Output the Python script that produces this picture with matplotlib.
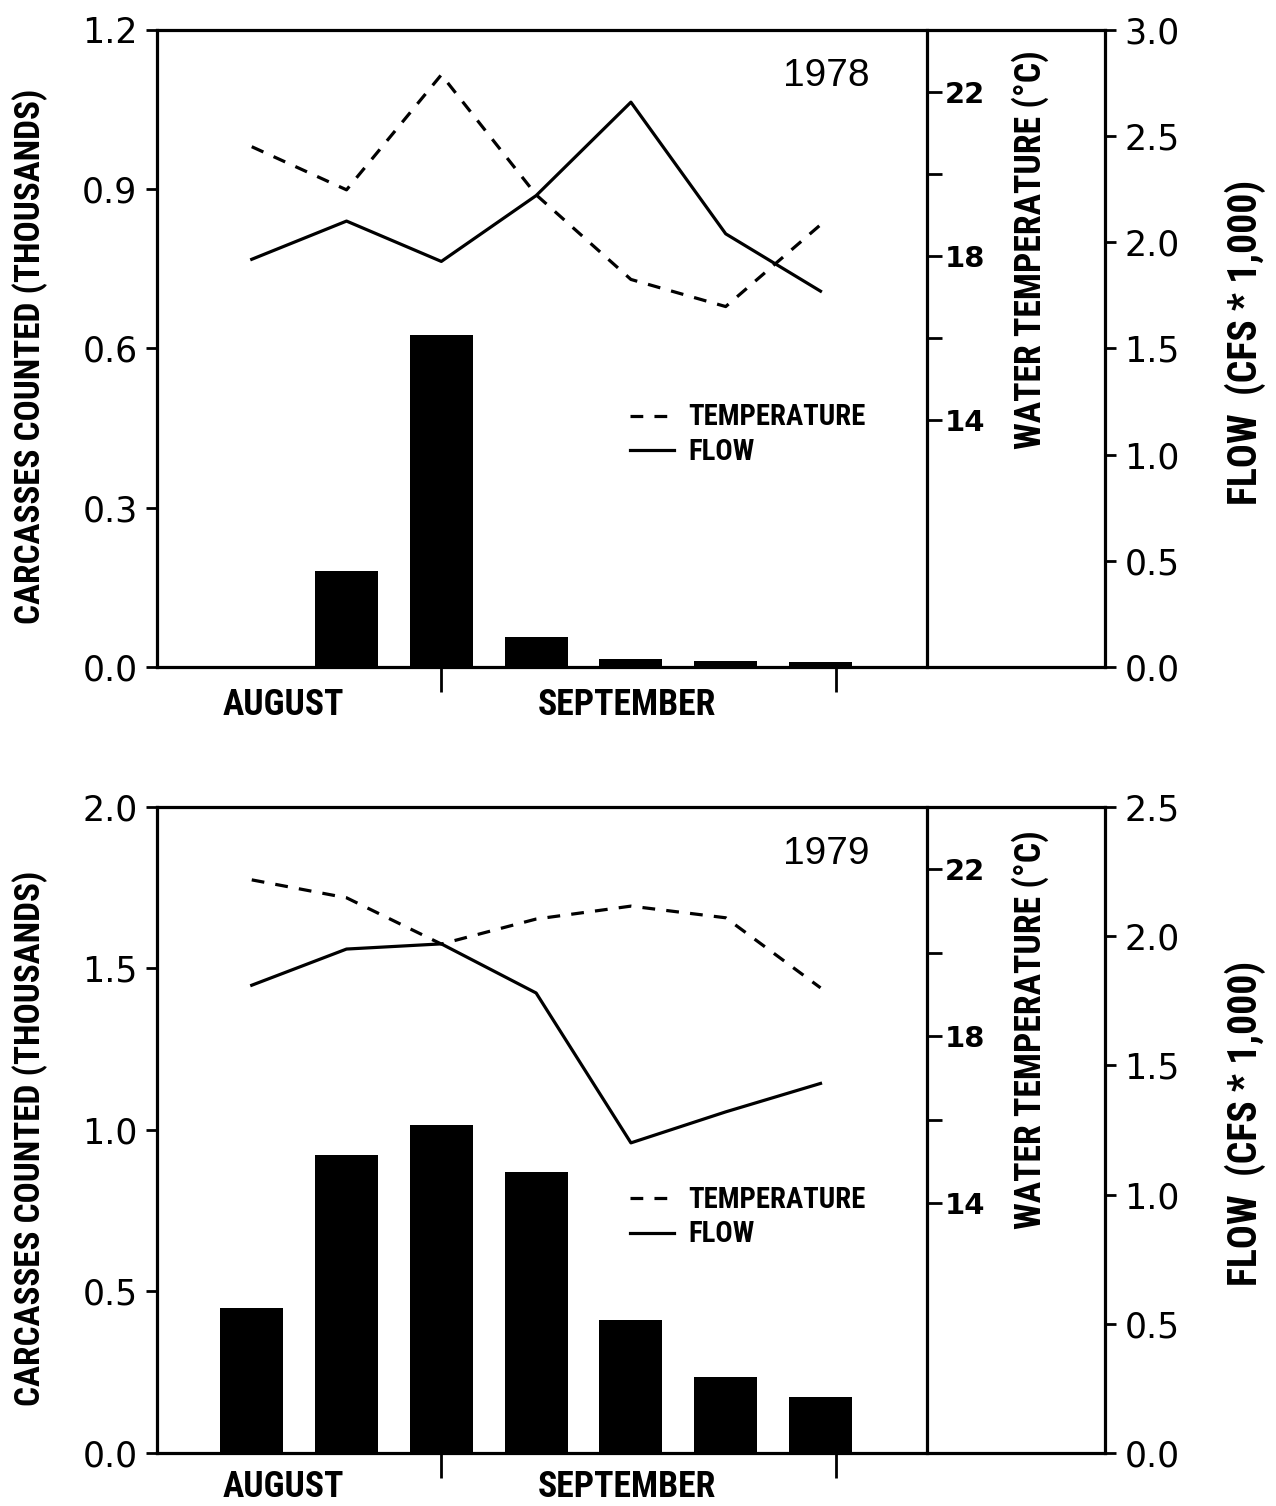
import matplotlib
matplotlib.use('Agg')
import matplotlib.pyplot as plt
from matplotlib.lines import Line2D
from matplotlib import font_manager

# weekly survey periods (bar positions)
weeks = [0, 1, 2, 3, 4, 5, 6]
month_ticks = [2.0, 6.16]
month_label_pos = [0.33, 3.96]
month_labels = ['AUGUST', 'SEPTEMBER']

carcasses_1978 = [0.0, 0.181, 0.626, 0.057, 0.015, 0.011, 0.009]
temp_1978 = [20.66, 19.61, 22.41, 19.49, 17.43, 16.77, 18.76]
flow_1978 = [1.92, 2.10, 1.91, 2.22, 2.66, 2.04, 1.77]

carcasses_1979 = [0.449, 0.923, 1.015, 0.870, 0.412, 0.235, 0.173]
temp_1979 = [21.75, 21.32, 20.21, 20.81, 21.12, 20.84, 19.16]
flow_1979 = [1.81, 1.95, 1.97, 1.78, 1.20, 1.32, 1.43]

names = {f.name for f in font_manager.fontManager.ttflist}
NARROW = 'DejaVu Sans'
for cand in ['Liberation Sans Narrow', 'Roboto Condensed', 'Open Sans Condensed', 'Roboto']:
    if cand in names:
        NARROW = cand
        break

LW = 2.3
fig = plt.figure(figsize=(12.76, 15.06), dpi=100)
to_fit = []  # (text, target length in px, vertical?)


def label(ax, x, y, s, length, vertical=True, **kw):
    t = ax.text(x, y, s, rotation=90 if vertical else 0, ha='center', va='center',
                fontfamily=NARROW, fontweight='bold', fontsize=20, **kw)
    to_fit.append((t, length, vertical))
    return t


def panel(rect, counts, temps, flows, cmax, cticks, fmax, fticks, year, month_dy):
    ax = fig.add_axes(rect)
    ax.bar(weeks, counts, width=0.665, color='black')
    ax.set_xlim(-1, 9)
    ax.set_ylim(0, cmax)
    ax.set_yticks(cticks)
    ax.set_yticklabels(['%.1f' % t for t in cticks])
    ax.spines['right'].set_visible(False)
    for s in ax.spines.values():
        s.set_linewidth(LW)
    ax.tick_params(axis='y', direction='out', length=8, width=2, pad=6, labelsize=25)
    ax.set_xticks(month_ticks)
    ax.set_xticklabels([])
    ax.tick_params(axis='x', which='major', direction='out', length=18, width=2)
    for xpos, name, w in zip(month_label_pos, month_labels, [121, 179]):
        label(ax, xpos, month_dy, name, w, vertical=False,
              transform=ax.get_xaxis_transform())
    label(ax, -0.134, 0.487, 'CARCASSES COUNTED (THOUSANDS)', 535,
          transform=ax.transAxes)
    ax.text(0.752, 0.927, year, transform=ax.transAxes, ha='right', va='center',
            fontfamily='Liberation Sans', fontsize=28)

    # water temperature axis (middle spine)
    axT = ax.twinx()
    axT.set_ylim(8, 23.5)
    for side in ['left', 'top', 'bottom']:
        axT.spines[side].set_visible(False)
    axT.spines['right'].set_position(('axes', 0.812))
    axT.spines['right'].set_linewidth(LW)
    axT.set_yticks([14, 18, 22])
    axT.set_yticks([16, 20], minor=True)
    axT.tick_params(which='both', direction='out', length=11, width=2, pad=2, labelsize=21)
    for lab in axT.get_yticklabels():
        lab.set_fontweight('bold')
    axT.plot(weeks, temps, color='black', lw=LW, ls=(0, (4, 3.5)))
    label(ax, 0.921, 0.655, 'WATER TEMPERATURE (°C)', 400, transform=ax.transAxes)

    # flow axis (right spine)
    axF = ax.twinx()
    axF.set_ylim(0, fmax)
    for side in ['left', 'top', 'bottom']:
        axF.spines[side].set_visible(False)
    axF.spines['right'].set_linewidth(LW)
    axF.set_yticks(fticks)
    axF.set_yticklabels(['%.1f' % t for t in fticks])
    axF.tick_params(direction='out', length=8, width=2, pad=6, labelsize=25)
    axF.plot(weeks, flows, color='black', lw=LW)
    label(ax, 1.148, 0.51, 'FLOW  (CFS * 1,000)', 325, transform=ax.transAxes)

    handles = [Line2D([], [], color='black', lw=LW, ls=(0, (4, 3.5))),
               Line2D([], [], color='black', lw=LW)]
    leg = axF.legend(handles, ['TEMPERATURE', 'FLOW'], loc='upper left',
                     bbox_to_anchor=(0.499, 0.414), frameon=False, borderpad=0,
                     borderaxespad=0, handlelength=1.6, handletextpad=0.5,
                     labelspacing=0.25,
                     prop={'family': NARROW, 'weight': 'bold', 'size': 20})
    to_fit.append((leg.get_texts()[0], 177, False))


panel([0.1230, 0.5571, 0.7429, 0.4230], carcasses_1978, temp_1978, flow_1978,
      1.2, [0.0, 0.3, 0.6, 0.9, 1.2], 3.0, [0.0, 0.5, 1.0, 1.5, 2.0, 2.5, 3.0],
      '1978', -0.06)
panel([0.1230, 0.0352, 0.7429, 0.4290], carcasses_1979, temp_1979, flow_1979,
      2.0, [0.0, 0.5, 1.0, 1.5, 2.0], 2.5, [0.0, 0.5, 1.0, 1.5, 2.0, 2.5],
      '1979', -0.053)

# scale the condensed-style labels to the lengths they have in the original
renderer = fig.canvas.get_renderer()
for t, length, vertical in to_fit:
    bb = t.get_window_extent(renderer)
    cur = bb.height if vertical else bb.width
    t.set_fontsize(t.get_fontsize() * length / cur)
# the legend's second label follows the first
for ax in fig.axes:
    leg = ax.get_legend()
    if leg is not None:
        texts = leg.get_texts()
        texts[1].set_fontsize(texts[0].get_fontsize())

fig.savefig('out.png', dpi=100)
